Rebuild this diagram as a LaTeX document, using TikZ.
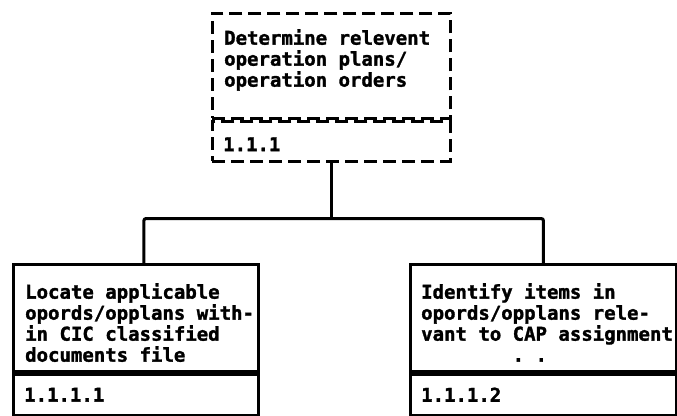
\documentclass[tikz,border=0pt]{standalone}
\usepackage{fontspec}
\newfontfamily\boxfont[BoldFeatures={FakeBold=1.6}]{DejaVu Sans Mono}
\usetikzlibrary{positioning}

\begin{document}
\begin{tikzpicture}[x=1pt, y=-1pt,
  every node/.style={font=\boxfont\bfseries\fontsize{19}{21}\selectfont},
  taskbox/.style={draw, line width=2.8pt, inner sep=0pt, minimum height=107pt},
  numbox/.style={draw, line width=2.8pt, inner sep=0pt, minimum height=41pt},
  plan/.style={dash pattern=on 13pt off 6pt},
  desc/.style={inner sep=0pt, align=left},
  link/.style={line width=3pt, rounded corners=2pt}]
  \useasboundingbox (0,0) rectangle (677,415);
  % top task (dashed)
  \node[taskbox, plan, minimum width=238pt, minimum height=105pt, anchor=north west] (top) at (211,12) {};
  \node[numbox, plan, minimum width=238pt, minimum height=40pt, below=0pt of top] (topnum) {};
  \node[desc, below right=17pt and 13pt of top.north west] (toptxt) {Determine relevent\\operation plans/\\operation orders};
  \node[desc, right=12pt of topnum.west, yshift=-3pt] (topid) {1.1.1};
  % sub tasks
  \node[taskbox, minimum width=245pt, anchor=north west] (left) at (12,263) {};
  \node[numbox, minimum width=245pt, below=0pt of left] (leftnum) {};
  \node[desc, below right=20pt and 13pt of left.north west] (lefttxt) {Locate applicable\\opords/opplans with-\\in CIC classified\\documents file};
  \node[desc, right=12pt of leftnum.west] (leftid) {1.1.1.1};
  \node[taskbox, minimum width=266pt, anchor=north west] (right) at (409,263) {};
  \node[numbox, minimum width=266pt, below=0pt of right] (rightnum) {};
  \node[desc, below right=20pt and 12pt of right.north west] (righttxt) {Identify items in\\opords/opplans rele-\\vant to CAP assignment\\\phantom{xxxxxxxx}.\phantom{x}.};
  \node[desc, right=12pt of rightnum.west] (rightid) {1.1.1.2};
  % connectors
  \coordinate[below=56pt of topnum.south] (bus);
  \draw[link] (topnum.south) -- (bus);
  \draw[link] ([xshift=8pt]left.north) |- (bus) -| (right.north);
\end{tikzpicture}
\end{document}
